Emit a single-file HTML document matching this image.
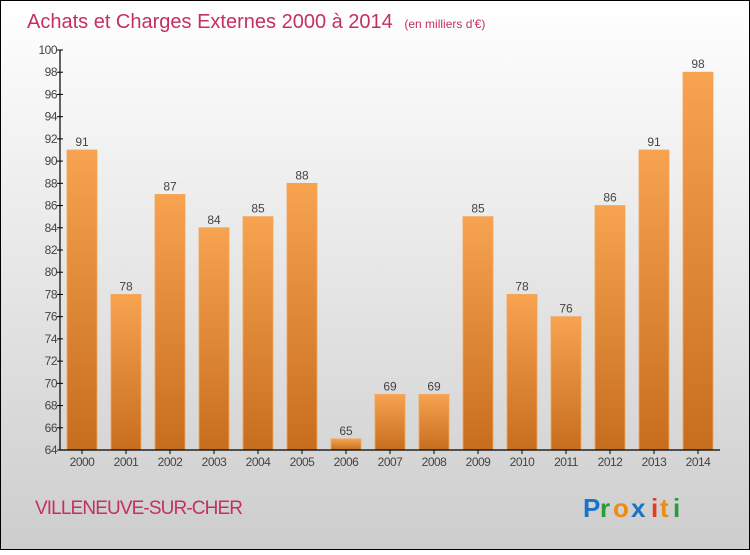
<!DOCTYPE html>
<html><head><meta charset="utf-8"><style>
html,body{margin:0;padding:0}
body{width:750px;height:550px;overflow:hidden;font-family:"Liberation Sans",sans-serif}
</style></head><body>
<svg id="chart" width="750" height="550" xmlns="http://www.w3.org/2000/svg">
<defs>
<linearGradient id="bg" x1="0" y1="0" x2="0" y2="1"><stop offset="0" stop-color="#ffffff"/><stop offset="1" stop-color="#cdcdcd"/></linearGradient>
<linearGradient id="bar" x1="0" y1="0" x2="0" y2="1"><stop offset="0" stop-color="#f7a34f"/><stop offset="1" stop-color="#c76e1e"/></linearGradient>
</defs>
<rect x="0.5" y="0.5" width="749" height="549" fill="url(#bg)" stroke="#000"/>
<text x="27" y="28" font-size="20" fill="#c4305f">Achats et Charges Externes 2000 à 2014 <tspan font-size="12" dx="6">(en milliers d'€)</tspan></text>
<g id="yaxis"></g>
<g id="bars"></g>
<g id="xaxis"></g>
<text x="35" y="514" font-size="19" fill="#c4305f" textLength="208">VILLENEUVE-SUR-CHER</text>
<g font-size="26" font-weight="bold">
<text x="583" y="517" fill="#1a73c8">P</text><text x="600" y="517" fill="#2a9a3a">r</text><text x="613" y="517" fill="#f08a10">o</text><text x="631" y="517" fill="#1a73c8">x</text><text x="651" y="517" fill="#e83a20">i</text><text x="660" y="517" fill="#f08a10">t</text><text x="673" y="517" fill="#2a9a3a">i</text>
</g>
</svg>
<script>
const years = ["2000","2001","2002","2003","2004","2005","2006","2007","2008","2009","2010","2011","2012","2013","2014"];
const values = [91,78,87,84,85,88,65,69,69,85,78,76,86,91,98];
const yTicks = [64,66,68,70,72,74,76,78,80,82,84,86,88,90,92,94,96,98,100];
(function(){
const NS="http://www.w3.org/2000/svg";
const yMin=64,yMax=100,pTop=50,pBottom=450,pLeft=60,pRight=720;
const y=v=>pBottom-(v-yMin)/(yMax-yMin)*(pBottom-pTop);
const step=44,x0=82,bw=30;
const x=i=>x0+i*step;
function mk(tag,attrs,parent){const e=document.createElementNS(NS,tag);for(const k in attrs)e.setAttribute(k,attrs[k]);parent.appendChild(e);return e;}
const ya=document.getElementById('yaxis'),xa=document.getElementById('xaxis'),bg=document.getElementById('bars');
mk('line',{x1:pLeft,y1:pTop,x2:pLeft,y2:pBottom,stroke:'#000','stroke-width':1.2},ya);
yTicks.forEach(t=>{
  mk('line',{x1:pLeft-3,y1:y(t),x2:pLeft+3,y2:y(t),stroke:'#000'},ya);
  const tx=mk('text',{x:pLeft-3,y:y(t)+4,'font-size':12,fill:'#444','text-anchor':'end','letter-spacing':'-0.5'},ya);
  tx.textContent=t;
  
  
});
values.forEach((v,i)=>{
  const r=mk('rect',{x:x(i)-bw/2,y:y(v),width:bw,height:pBottom-y(v),fill:'url(#bar)',stroke:'#f3a55a','stroke-width':0.8},bg);
  
  
  const l=mk('text',{x:x(i),y:y(v)-4,'font-size':12,fill:'#444','text-anchor':'middle'},bg);
  l.textContent=v;
  
  
});
mk('line',{x1:pLeft,y1:pBottom,x2:pRight,y2:pBottom,stroke:'#000','stroke-width':1.2},xa);
years.forEach((yr,i)=>{
  mk('line',{x1:x(i),y1:pBottom,x2:x(i),y2:pBottom+4,stroke:'#000'},xa);
  const t=mk('text',{x:x(i),y:pBottom+16,'font-size':12,fill:'#444','text-anchor':'middle','letter-spacing':'-0.5'},xa);
  t.textContent=yr;
  
  
});
})();
</script>
</body></html>
